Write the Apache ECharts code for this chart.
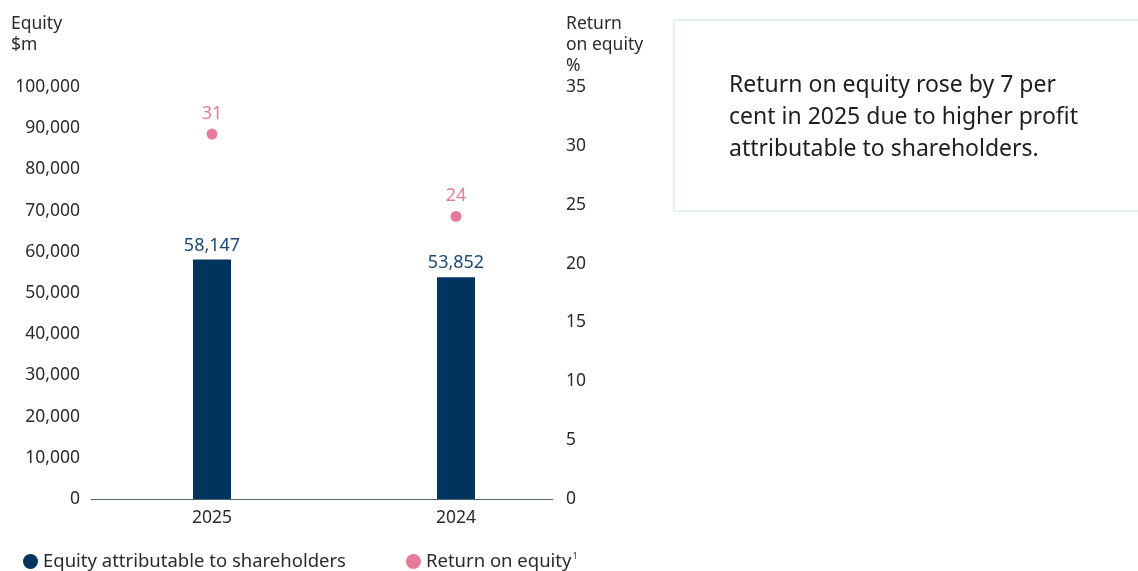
<!DOCTYPE html>
<html>
<head>
<meta charset="utf-8">
<script src="https://cdn.jsdelivr.net/npm/echarts@6/dist/echarts.min.js"></script>
<style>
  html, body { margin: 0; padding: 0; background: #ffffff; }
  #chart { width: 1138px; height: 571px; }
</style>
</head>
<body>
<div id="chart"></div>
<script>
// Years shown on the category axis
const years = ['2025', '2024'];
// Equity attributable to shareholders, $m
const equity = [58147, 53852];
// Return on equity, %
const roe = [31, 24];
// Tick settings for the two value axes
const equityTicks = { min: 0, max: 100000, interval: 10000 };
const roeTicks = { min: 0, max: 35, interval: 5 };

const FONT = 'Noto Sans';
const NAVY = '#00345f';
const NAVY_TEXT = '#1d4a73';
const PINK = '#df5a7e';
const AXIS_TEXT = '#2b2b2b';
const TICK_SIZE = 17.5;

const chart = echarts.init(document.getElementById('chart'), null, { renderer: 'canvas' });

chart.setOption({
  animation: false,
  backgroundColor: '#ffffff',
  textStyle: { fontFamily: FONT },
  grid: { left: 90, top: 87, width: 488, height: 412, containLabel: false },
  legend: {
    left: 23,
    top: 552,
    padding: 0,
    itemWidth: 15,
    itemHeight: 15,
    itemGap: 60,
    icon: 'circle',
    textStyle: {
      fontFamily: FONT, fontSize: 18.5, color: AXIS_TEXT,
      rich: { sup: { fontSize: 9, fontFamily: FONT, color: AXIS_TEXT, padding: [0, 0, 10, 1] } }
    },
    formatter: function (name) {
      return name === 'Return on equity' ? name + '{sup|1}' : name;
    },
    data: ['Equity attributable to shareholders', 'Return on equity']
  },
  xAxis: {
    type: 'category',
    data: years,
    axisLine: { show: false },
    axisTick: { show: false },
    axisLabel: { color: AXIS_TEXT, fontSize: TICK_SIZE, fontFamily: FONT, margin: 10 }
  },
  yAxis: [
    {
      type: 'value',
      min: equityTicks.min, max: equityTicks.max, interval: equityTicks.interval,
      position: 'left',
      splitLine: { show: false },
      axisLine: { show: false },
      axisTick: { show: false },
      axisLabel: {
        color: AXIS_TEXT, fontSize: TICK_SIZE, fontFamily: FONT, margin: 10,
        formatter: v => v.toLocaleString('en-US')
      }
    },
    {
      type: 'value',
      min: roeTicks.min, max: roeTicks.max, interval: roeTicks.interval,
      position: 'right',
      offset: -25,
      splitLine: { show: false },
      axisLine: { show: false },
      axisTick: { show: false },
      axisLabel: { color: AXIS_TEXT, fontSize: TICK_SIZE, fontFamily: FONT, margin: 13, align: 'left' }
    }
  ],
  series: [
    {
      name: 'Equity attributable to shareholders',
      type: 'bar',
      yAxisIndex: 0,
      barWidth: 38,
      data: equity,
      itemStyle: { color: NAVY },
      label: {
        show: true, position: 'top', distance: 5,
        color: NAVY_TEXT, fontSize: 18, fontFamily: FONT,
        formatter: p => p.value.toLocaleString('en-US')
      },
      markLine: {
        silent: true,
        symbol: 'none',
        label: { show: false },
        lineStyle: { color: '#4a6478', width: 1, type: 'solid' },
        data: [[
          { x: 91, yAxis: 0 },
          { x: 553, yAxis: 0 }
        ]]
      }
    },
    {
      name: 'Return on equity',
      type: 'scatter',
      yAxisIndex: 1,
      symbol: 'circle',
      symbolSize: 11,
      data: roe,
      itemStyle: { color: PINK },
      label: {
        show: true, position: 'top', distance: 6,
        color: PINK, fontSize: 18, fontFamily: FONT
      }
    }
  ],
  graphic: [
    {
      type: 'text', left: 11, top: 14,
      style: { text: 'Equity\n$m', fontFamily: FONT, fontSize: 17.5, lineHeight: 21, fill: AXIS_TEXT }
    },
    {
      type: 'text', left: 566, top: 14,
      style: { text: 'Return\non equity\n%', fontFamily: FONT, fontSize: 17.5, lineHeight: 21, fill: AXIS_TEXT }
    },
    {
      type: 'rect',
      shape: { x: 674, y: 20, width: 480, height: 191 },
      style: { fill: '#ffffff', stroke: '#e4f1f2', lineWidth: 2 }
    },
    {
      type: 'text', left: 729, top: 69,
      style: {
        text: 'Return on equity rose by 7 per\ncent in 2025 due to higher profit\nattributable to shareholders.',
        fontFamily: FONT, fontSize: 23, lineHeight: 32, fill: '#1e1e1e'
      }
    }
  ]
});
</script>
</body>
</html>
